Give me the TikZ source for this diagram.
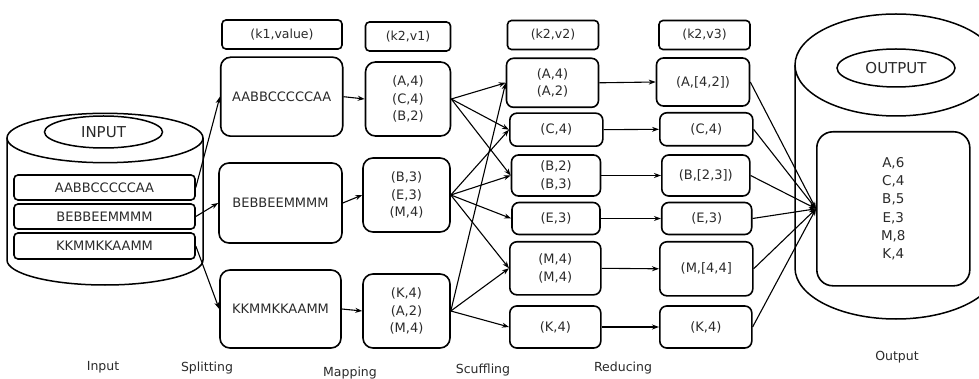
\documentclass[tikz,border=0pt]{standalone}
\usepackage{fontspec}
\setmainfont{DejaVu Sans}
\usetikzlibrary{arrows.meta,shapes.geometric}
\definecolor{txt}{HTML}{2A2A2A}
\begin{document}
\begin{tikzpicture}[x=1pt,y=-1pt,
  bx/.style={draw, line width=1.6pt, rounded corners=7pt, inner sep=0pt, text=txt, align=center, font=\fontsize{13}{17.5}\selectfont},
  hbx/.style={bx, rounded corners=4pt, minimum height=29pt, font=\fontsize{12.5}{15}\selectfont},
  ibx/.style={bx, rounded corners=4pt, minimum width=181pt},
  cyl/.style={draw, line width=1.5pt},
  ell/.style={draw, ellipse, line width=1.5pt, inner sep=0pt, text=txt, font=\fontsize{15}{18}\selectfont},
  arr/.style={-{Stealth[length=7pt,width=5pt]}, line width=1.1pt},
  lbl/.style={text=txt, font=\fontsize{12.5}{15}\selectfont}]
\clip (0,0) rectangle (979,379);
% input cylinder
\draw[cyl] (7,138) -- (7,260) arc[start angle=180,end angle=360,x radius=98pt,y radius=25pt] -- (203,138);
\draw[cyl] (105,138) ellipse[x radius=98pt,y radius=24.7pt];
\node[ell, minimum width=118pt, minimum height=32pt] (inl) at (103.5,132) {INPUT};
\node[ibx, minimum height=25pt] (in1) at (104.5,187.5) {AABBCCCCCAA};
\node[ibx, minimum height=25pt] (in2) at (104.5,216.5) {BEBBEEMMMM};
\node[ibx, minimum height=26pt] (in3) at (104.5,246) {KKMMKKAAMM};
% headers
\node[hbx, minimum width=120pt] (h1) at (282,34.5) {(k1,value)};
\node[hbx, minimum width=85pt] (h2) at (408,36.5) {(k2,v1)};
\node[hbx, minimum width=91pt] (h3) at (553,35) {(k2,v2)};
\node[hbx, minimum width=91pt] (h4) at (704.5,35) {(k2,v3)};
% splitting
\node[bx, rounded corners=10pt, minimum width=122pt, minimum height=79pt] (s1) at (281.7,96.7) {AABBCCCCCAA};
\node[bx, rounded corners=10pt, minimum width=123pt, minimum height=80pt] (s2) at (280.5,203) {BEBBEEMMMM};
\node[bx, rounded corners=10pt, minimum width=121pt, minimum height=78pt] (s3) at (280.5,309) {KKMMKKAAMM};
% mapping
\node[bx, rounded corners=10pt, minimum width=85pt, minimum height=74pt] (m1) at (408,99) {(A,4)\\(C,4)\\(B,2)};
\node[bx, rounded corners=10pt, minimum width=87pt, minimum height=74pt] (m2) at (406.5,195) {(B,3)\\(E,3)\\(M,4)};
\node[bx, rounded corners=10pt, minimum width=87pt, minimum height=74pt] (m3) at (406.5,311) {(K,4)\\(A,2)\\(M,4)};
% shuffling
\node[bx, minimum width=92pt, minimum height=49pt] (sh1) at (552.5,82.8) {(A,4)\\(A,2)};
\node[bx, minimum width=93pt, minimum height=33pt] (sh2) at (556.3,129.7) {(C,4)};
\node[bx, minimum width=89pt, minimum height=41pt] (sh3) at (556,175.5) {(B,2)\\(B,3)};
\node[bx, minimum width=88pt, minimum height=32pt] (sh4) at (556,218.5) {(E,3)};
\node[bx, minimum width=91pt, minimum height=53pt] (sh5) at (555.3,268.3) {(M,4)\\(M,4)};
\node[bx, minimum width=91pt, minimum height=42pt] (sh6) at (555.3,327) {(K,4)};
% reducing
\node[bx, minimum width=93pt, minimum height=48pt] (r1) at (703,82) {(A,[4,2])};
\node[bx, minimum width=93pt, minimum height=33pt] (r2) at (706.3,129.3) {(C,4)};
\node[bx, minimum width=88pt, minimum height=41pt] (r3) at (705.8,175.5) {(B,[2,3])};
\node[bx, minimum width=90pt, minimum height=32pt] (r4) at (706.7,218.5) {(E,3)};
\node[bx, minimum width=93pt, minimum height=54pt] (r5) at (706.3,268.8) {(M,[4,4]};
\node[bx, minimum width=92pt, minimum height=42pt] (r6) at (705.8,327) {(K,4)};
% output cylinder
\draw[cyl] (795,65) -- (795,268) arc[start angle=180,end angle=360,x radius=101pt,y radius=51pt] -- (997,65);
\draw[cyl] (896,65) ellipse[x radius=101pt,y radius=51pt];
\node[ell, minimum width=118pt, minimum height=38pt] (outl) at (896,68) {OUTPUT};
\node[bx, rounded corners=16pt, minimum width=153pt, minimum height=154pt, font=\fontsize{13.5}{18.3}\selectfont] (ob) at (893.3,208.8) {A,6\\C,4\\B,5\\E,3\\M,8\\K,4};
% arrows input -> split -> map
\foreach \i in {1,2,3} {
  \draw[arr] (in\i.east) -- (s\i.west);
  \draw[arr] (s\i.east) -- (m\i.west);
  }
% shuffle
\draw[arr] (m1.east) -- (sh1.west);
\draw[arr] (m1.east) -- (sh2.west);
\draw[arr] (m1.east) -- (sh3.west);
\draw[arr] (m2.east) -- (sh2.west);
\draw[arr] (m2.east) -- (sh3.west);
\draw[arr] (m2.east) -- (sh4.west);
\draw[arr] (m2.east) -- (sh5.west);
\draw[arr] (m3.east) -- (sh1.west);
\draw[arr] (m3.east) -- (sh5.west);
\draw[arr] (m3.east) -- (sh6.west);
% reduce and output
\foreach \i in {1,...,6} {
  \draw[arr] (sh\i.east) -- (r\i.west);
  \draw[arr] (r\i.east) -- (ob.west);
  }
% labels
\node[lbl] (l1) at (103,367) {Input};
\node[lbl] (l2) at (207,368) {Splitting};
\node[lbl] (l3) at (350,373) {Mapping};
\node[lbl] (l4) at (483,370) {Scuffling};
\node[lbl] (l5) at (623,368) {Reducing};
\node[lbl] (l6) at (897,357) {Output};
\end{tikzpicture}
\end{document}
